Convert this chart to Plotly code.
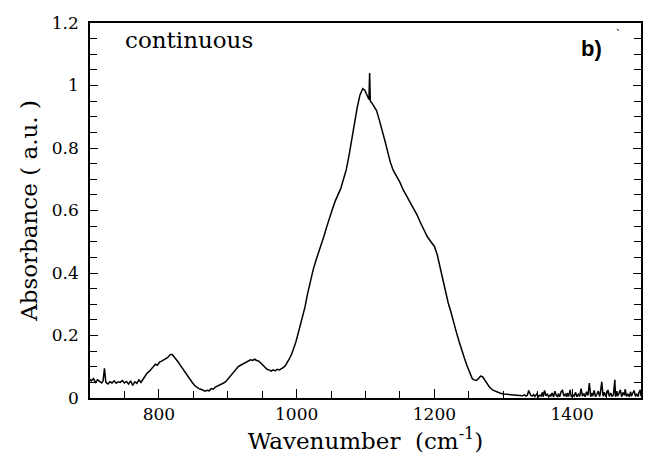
import plotly.graph_objects as go

wavenumber = [
    700, 702, 705, 708, 711, 714, 717, 719, 721, 723, 726, 729, 732, 735, 738, 741, 744, 747, 750,
    753, 756, 759, 762, 765, 768, 771, 774, 777, 780, 783, 786, 789, 792, 795, 798, 801, 804, 807,
    810, 813, 816, 819, 822, 825, 828, 831, 834, 837, 840, 843, 846, 849, 852, 855, 858, 861, 864,
    867, 870, 873, 876, 879, 882, 885, 888, 891, 894, 897, 900, 903, 906, 909, 912, 915, 918, 921,
    924, 927, 930, 933, 936, 939, 942, 945, 948, 951, 954, 957, 960, 963, 966, 969, 972, 975, 978,
    981, 984, 987, 990, 993, 996, 999, 1002, 1005, 1008, 1012, 1016, 1020, 1024, 1028, 1032, 1036,
    1040, 1044, 1048, 1052, 1056, 1060, 1064, 1068, 1072, 1076, 1080, 1084, 1088, 1092, 1096, 1099,
    1101, 1103, 1105, 1106, 1107, 1109, 1112, 1116, 1120, 1124, 1128, 1132, 1136, 1140, 1145, 1150,
    1155, 1160, 1165, 1170, 1175, 1180, 1185, 1190, 1195, 1200, 1204, 1208, 1212, 1216, 1220, 1224,
    1228, 1232, 1236, 1240, 1244, 1248, 1252, 1255, 1258, 1261, 1264, 1267, 1270, 1273, 1276, 1280,
    1285, 1290, 1295, 1300, 1305, 1310, 1315, 1320, 1325, 1328, 1331, 1333, 1335, 1337, 1340, 1342,
    1344, 1346, 1349, 1351, 1353, 1355, 1357, 1358, 1360, 1362, 1364, 1366, 1368, 1369, 1371, 1373,
    1375, 1377, 1379, 1380, 1382, 1384, 1386, 1388, 1390, 1392, 1393, 1395, 1397, 1399, 1401, 1403,
    1405, 1407, 1409, 1411, 1413, 1415, 1417, 1419, 1421, 1423, 1425, 1427, 1429, 1430, 1432, 1434,
    1436, 1438, 1440, 1441, 1443, 1445, 1447, 1449, 1450, 1452, 1454, 1456, 1458, 1460, 1462, 1463,
    1465, 1466, 1468, 1470, 1472, 1474, 1476, 1477, 1479, 1481, 1483, 1485, 1486, 1488, 1490, 1492,
    1494, 1496, 1497, 1499, 1500,
]

absorbance = [
    0.060, 0.055, 0.062, 0.050, 0.058, 0.052, 0.048, 0.055, 0.095, 0.050, 0.045, 0.052, 0.048, 0.055,
    0.047, 0.052, 0.050, 0.056, 0.048, 0.053, 0.045, 0.055, 0.040, 0.052, 0.047, 0.058, 0.050, 0.060,
    0.072, 0.080, 0.085, 0.092, 0.100, 0.108, 0.105, 0.115, 0.118, 0.122, 0.128, 0.130, 0.138, 0.140,
    0.132, 0.125, 0.115, 0.105, 0.095, 0.088, 0.078, 0.068, 0.058, 0.048, 0.040, 0.035, 0.030, 0.028,
    0.025, 0.022, 0.025, 0.023, 0.030, 0.028, 0.035, 0.038, 0.040, 0.045, 0.048, 0.052, 0.060, 0.068,
    0.075, 0.085, 0.092, 0.100, 0.104, 0.108, 0.112, 0.115, 0.118, 0.122, 0.120, 0.124, 0.120, 0.118,
    0.112, 0.105, 0.100, 0.092, 0.090, 0.086, 0.090, 0.087, 0.092, 0.090, 0.094, 0.098, 0.105, 0.115,
    0.128, 0.142, 0.160, 0.180, 0.205, 0.230, 0.255, 0.290, 0.335, 0.375, 0.410, 0.440, 0.465, 0.490,
    0.520, 0.550, 0.580, 0.605, 0.630, 0.650, 0.670, 0.700, 0.730, 0.775, 0.830, 0.880, 0.930, 0.970,
    0.990, 0.985, 0.975, 0.965, 0.955, 1.040, 0.950, 0.945, 0.935, 0.920, 0.890, 0.860, 0.825, 0.790,
    0.755, 0.730, 0.710, 0.690, 0.665, 0.645, 0.625, 0.605, 0.585, 0.560, 0.535, 0.515, 0.500, 0.485,
    0.460, 0.420, 0.385, 0.345, 0.305, 0.275, 0.240, 0.210, 0.180, 0.150, 0.125, 0.100, 0.075, 0.062,
    0.058, 0.056, 0.062, 0.070, 0.068, 0.058, 0.045, 0.035, 0.025, 0.020, 0.016, 0.013, 0.012, 0.010,
    0.010, 0.008, 0.009, 0.007, 0.010, 0.006, 0.009, 0.024, 0.008, 0.006, 0.011, 0.005, 0.014, 0.004,
    0.009, 0.006, 0.018, 0.004, 0.024, 0.007, 0.012, 0.004, 0.010, 0.005, 0.016, 0.003, 0.022, 0.008,
    0.005, 0.014, 0.004, 0.020, 0.024, 0.006, 0.012, 0.004, 0.016, 0.005, 0.026, 0.003, 0.010, 0.006,
    0.018, 0.004, 0.012, 0.005, 0.030, 0.006, 0.014, 0.004, 0.020, 0.008, 0.048, 0.004, 0.016, 0.006,
    0.024, 0.004, 0.012, 0.022, 0.005, 0.015, 0.052, 0.006, 0.018, 0.004, 0.012, 0.026, 0.005, 0.016,
    0.006, 0.010, 0.058, 0.004, 0.022, 0.006, 0.014, 0.026, 0.004, 0.018, 0.008, 0.028, 0.005, 0.012,
    0.004, 0.020, 0.006, 0.016, 0.024, 0.005, 0.012, 0.004, 0.018, 0.026, 0.006, 0.014, 0.004, 0.022,
    0.008, 0.016, 0.006, 0.020, 0.010,
]

x_tickvals = [800, 1000, 1200, 1400]
y_tickvals = [0, 0.2, 0.4, 0.6, 0.8, 1.0, 1.2]
y_ticktext = ["0", "0.2", "0.4", "0.6", "0.8", "1", "1.2"]

serif = "DejaVu Serif"

fig = go.Figure()
fig.add_trace(go.Scatter(
    x=wavenumber, y=absorbance, mode="lines",
    line=dict(color="black", width=1.5), showlegend=False, hoverinfo="skip",
))

fig.update_layout(
    width=648, height=464,
    margin=dict(l=90, r=5, t=23, b=66),
    paper_bgcolor="white", plot_bgcolor="white",
    font=dict(family=serif, color="black", size=17),
    xaxis=dict(
        range=[700, 1500], tickvals=x_tickvals, ticks="inside", ticklen=9, tickwidth=1.3,
        tickcolor="black", showline=True, linecolor="black", linewidth=1.6, mirror=True,
        showgrid=False, zeroline=False,
        minor=dict(dtick=50, tick0=700, ticks="inside", ticklen=7, tickwidth=1.2, tickcolor="black"),
        tickfont=dict(family=serif, size=17),
        title=dict(text="Wavenumber\u00a0\u00a0(cm<sup>-1</sup>)", font=dict(family=serif, size=23), standoff=1),
    ),
    yaxis=dict(
        range=[0, 1.2], tickvals=y_tickvals, ticktext=y_ticktext, ticks="inside", ticklen=8,
        tickwidth=1.3, tickcolor="black", showline=True, linecolor="black", linewidth=1.6,
        mirror="ticks", showgrid=False, zeroline=False,
        minor=dict(dtick=0.05, tick0=0, ticks="inside", ticklen=7, tickwidth=1.2, tickcolor="black"),
        tickfont=dict(family=serif, size=17), ticklabelstandoff=6,
        title=dict(text="Absorbance ( a.u. )", font=dict(family=serif, size=23), standoff=8),
    ),
    annotations=[
        dict(text="continuous", x=0.06, y=0.955, xref="paper", yref="paper", xanchor="left",
             yanchor="middle", showarrow=False, font=dict(family=serif, size=23)),
        dict(text="<b>b)</b>", x=0.933, y=0.933, xref="paper", yref="paper", xanchor="right",
             yanchor="middle", showarrow=False, font=dict(family="Liberation Sans", size=22)),
        dict(text="`", x=0.958, y=0.968, xref="paper", yref="paper", xanchor="center",
             yanchor="middle", showarrow=False, font=dict(family="Liberation Sans", size=12)),
    ],
)

fig.write_html("out.html")
